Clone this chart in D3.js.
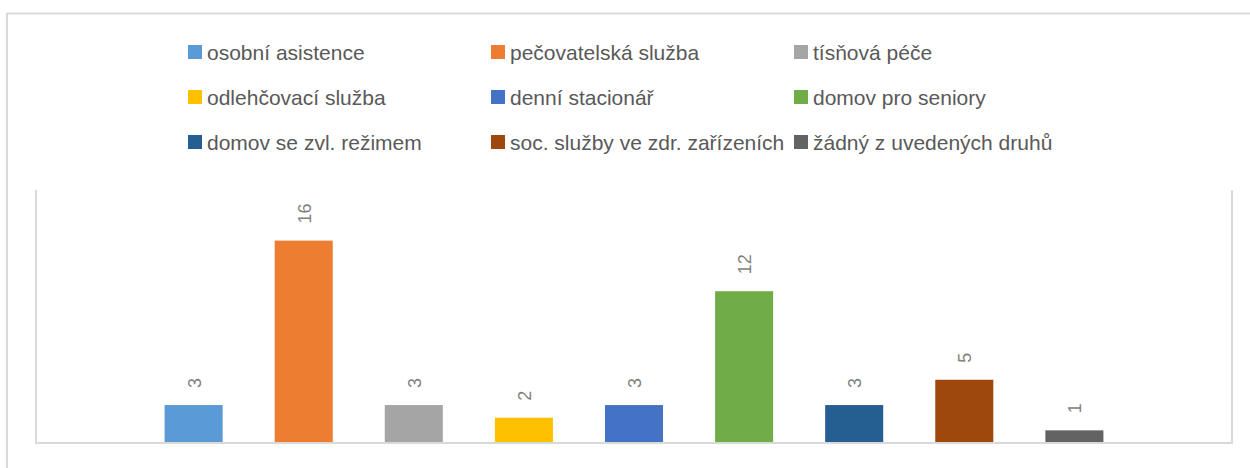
<!DOCTYPE html>
<html>
<head>
<meta charset="utf-8">
<script src="https://cdn.jsdelivr.net/npm/d3@7"></script>
<style>
  body { margin: 0; background: #fff; }
  svg { display: block; font-family: "Liberation Sans", Arial, sans-serif; }
</style>
</head>
<body>
<svg id="svg" width="1250" height="468"></svg>
<script>
var series = ["osobní asistence", "pečovatelská služba", "tísňová péče",
              "odlehčovací služba", "denní stacionář", "domov pro seniory",
              "domov se zvl. režimem", "soc. služby ve zdr. zařízeních", "žádný z uvedených druhů"];
var values = [3, 16, 3, 2, 3, 12, 3, 5, 1];
var colors = ["#5B9BD5", "#ED7D31", "#A5A5A5", "#FFC000", "#4472C4",
              "#70AD47", "#255E91", "#9E480E", "#636363"];
var yMax = 20;

var svg = d3.select("#svg"),
    width = +svg.attr("width"),
    height = +svg.attr("height");

// outer chart border (runs off the right and bottom edges)
svg.append("rect")
    .attr("x", 7).attr("y", 13.5)
    .attr("width", width).attr("height", height)
    .attr("fill", "none")
    .attr("stroke", "#d9d9d9")
    .attr("stroke-width", 2);

var plot = { left: 36, right: 1232, top: 190, bottom: 443 };

var x = d3.scaleBand()
    .domain(series)
    .range([plot.left, plot.right])
    .paddingInner(0.4727)
    .paddingOuter(1.168);

var y = d3.scaleLinear()
    .domain([0, yMax])
    .range([plot.bottom, plot.top]);

// plot area frame: left, bottom, right
svg.append("path")
    .attr("d", "M" + plot.left + "," + plot.top + "V" + plot.bottom + "H" + plot.right + "V" + plot.top)
    .attr("fill", "none")
    .attr("stroke", "#d9d9d9")
    .attr("stroke-width", 2);

var bars = svg.append("g").attr("class", "bars");

bars.selectAll("rect")
  .data(values)
  .enter().append("rect")
    .attr("x", function(d, i) { return x(series[i]); })
    .attr("y", function(d) { return y(d); })
    .attr("width", x.bandwidth())
    .attr("height", function(d) { return y(0) - 1 - y(d); })
    .attr("fill", function(d, i) { return colors[i]; });

bars.selectAll("text")
  .data(values)
  .enter().append("text")
    .attr("transform", function(d, i) {
        return "translate(" + (x(series[i]) + x.bandwidth() / 2 + 1) + "," + (y(d) - 17) + ") rotate(-90)";
    })
    .attr("dominant-baseline", "central")
    .attr("text-anchor", "start")
    .attr("fill", "#7f7f7f")
    .attr("font-size", "18px")
    .text(function(d) { return d; });

// legend, 3 columns x 3 rows
var legend = svg.append("g").attr("class", "legend");
var item = legend.selectAll("g")
  .data(series)
  .enter().append("g")
    .attr("transform", function(d, i) {
        return "translate(" + (188 + (i % 3) * 303) + "," + (52 + Math.floor(i / 3) * 45) + ")";
    });

item.append("rect")
    .attr("x", 0).attr("y", -7)
    .attr("width", 14).attr("height", 14)
    .attr("fill", function(d, i) { return colors[i]; });

item.append("text")
    .attr("x", 19)
    .attr("dominant-baseline", "central")
    .attr("fill", "#595959")
    .attr("font-size", "21px")
    .text(function(d) { return d; });
</script>
</body>
</html>
